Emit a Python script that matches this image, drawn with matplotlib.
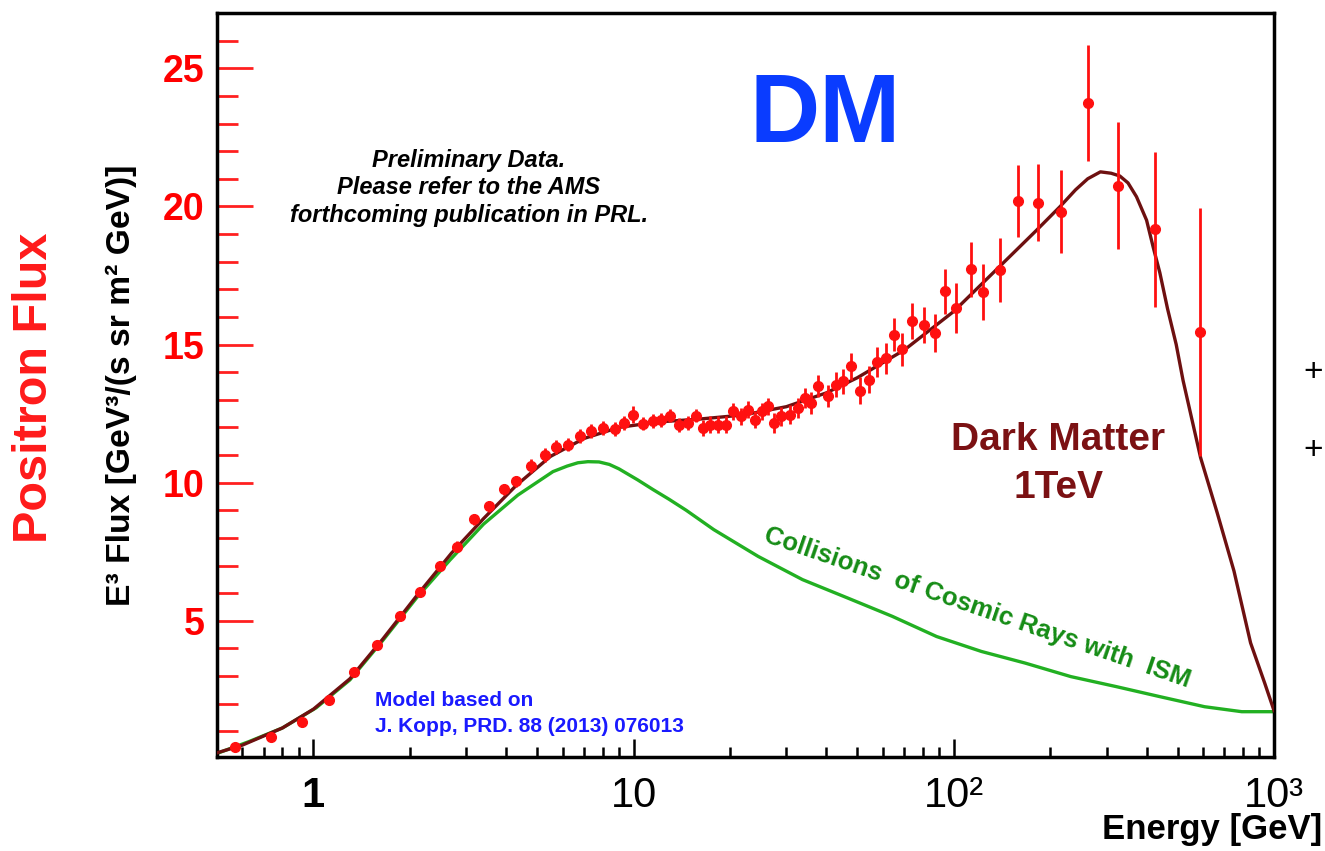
import numpy as np
import matplotlib
matplotlib.use("Agg")
import matplotlib.pyplot as plt
from matplotlib.ticker import MultipleLocator, LogLocator, NullFormatter

plt.rcParams['font.family'] = ['Liberation Sans', 'DejaVu Sans']

# AMS positron data points (E in GeV, E^3 flux, error)
energy = [0.571, 0.736, 0.922, 1.117, 1.336, 1.585, 1.86, 2.15, 2.48, 2.81,
          3.18, 3.54, 3.94, 4.3, 4.79, 5.27, 5.73, 6.24, 6.78, 7.38,
          8.02, 8.72, 9.3, 9.95, 10.7, 11.5, 12.2, 13.0, 13.9, 14.8,
          15.7, 16.5, 17.3, 18.4, 19.4, 20.4, 21.7, 22.7, 23.9, 25.1,
          26.3, 27.5, 28.9, 30.7, 32.6, 34.2, 35.8, 37.6, 40.4, 43.0,
          45.1, 47.9, 50.9, 54.2, 57.6, 61.2, 64.9, 69.0, 74.1, 80.6,
          87.1, 93.9, 101.8, 112.8, 123.7, 139.1, 158.8, 183.5, 216.3, 262.8,
          324.7, 426.0, 588.0]
flux = [0.42, 0.81, 1.33, 2.14, 3.13, 4.13, 5.16, 6.06, 7.0, 7.68,
        8.67, 9.15, 9.76, 10.05, 10.59, 11.0, 11.3, 11.38, 11.68, 11.86,
        11.98, 11.95, 12.16, 12.46, 12.14, 12.22, 12.28, 12.43, 12.1, 12.16,
        12.43, 11.98, 12.1, 12.1, 12.1, 12.58, 12.4, 12.64, 12.28, 12.58,
        12.76, 12.16, 12.4, 12.46, 12.7, 13.07, 12.89, 13.49, 13.13, 13.55,
        13.67, 14.21, 13.33, 13.73, 14.37, 14.5, 15.36, 14.82, 15.84, 15.72,
        15.42, 16.92, 16.33, 17.72, 16.9, 17.69, 20.2, 20.13, 19.8, 23.73,
        20.74, 19.17, 15.45]
flux_err = [0.05, 0.05, 0.06, 0.07, 0.08, 0.09, 0.1, 0.12, 0.15, 0.2,
            0.2, 0.2, 0.2, 0.2, 0.25, 0.25, 0.25, 0.25, 0.25, 0.25,
            0.25, 0.25, 0.25, 0.3, 0.25, 0.25, 0.25, 0.25, 0.25, 0.25,
            0.25, 0.3, 0.3, 0.3, 0.3, 0.3, 0.3, 0.3, 0.3, 0.3,
            0.3, 0.35, 0.35, 0.35, 0.35, 0.35, 0.4, 0.4, 0.4, 0.45,
            0.45, 0.5, 0.5, 0.5, 0.55, 0.55, 0.6, 0.6, 0.65, 0.65,
            0.7, 0.8, 0.9, 1.0, 1.0, 1.15, 1.3, 1.4, 1.5, 2.1,
            2.3, 2.8, 4.5]

# model: collisions of cosmic rays with ISM
bg_energy = [0.5, 0.63, 0.8, 1.02, 1.3, 1.65, 2.1, 2.67, 3.4, 4.35,
             5.6, 6.2, 6.7, 7.2, 7.8, 8.4, 9.0, 10.3, 11.5, 12.9,
             14.6, 17.8, 24.5, 33.7, 46.5, 64.3, 88.4, 122, 167, 232,
             321, 438, 607, 793, 1000]
bg_flux = [0.2, 0.63, 1.12, 1.85, 2.86, 4.3, 5.83, 7.2, 8.5, 9.55,
           10.4, 10.6, 10.72, 10.76, 10.75, 10.66, 10.5, 10.1, 9.75, 9.4,
           9.0, 8.3, 7.33, 6.49, 5.83, 5.16, 4.43, 3.89, 3.47, 2.98,
           2.62, 2.26, 1.89, 1.71, 1.71]

# model: ISM + 1 TeV dark matter
dm_energy = [0.5, 0.6, 0.8, 1.0, 1.3, 1.65, 2.1, 2.7, 3.4, 4.3,
             5.5, 7.0, 9.0, 12, 16, 22, 30, 40, 50, 70,
             100, 150, 180, 215, 240, 262, 287, 310, 330, 350,
             372, 400, 420, 440, 465, 495, 520, 590, 665, 750,
             845, 935, 1000]
dm_flux = [0.22, 0.5, 1.12, 1.8, 2.9, 4.35, 5.9, 7.45, 8.7, 9.9,
           10.95, 11.6, 12.0, 12.2, 12.3, 12.45, 12.75, 13.25, 13.8, 14.8,
           16.2, 18.2, 19.1, 20.0, 20.6, 21.0, 21.25, 21.2, 21.1, 20.85,
           20.35, 19.5, 18.5, 17.6, 16.3, 15.0, 13.7, 10.9, 8.9, 6.8,
           4.2, 2.75, 1.75]

W, H = 1325, 851
fig = plt.figure(figsize=(W / 100, H / 100), dpi=100)
ax = fig.add_axes([217 / W, 1 - 757 / H, (1274 - 217) / W, (757 - 13) / H])

ax.plot(bg_energy, bg_flux, color='#22b022', lw=2.4, zorder=2)
ax.plot(dm_energy, dm_flux, color='#6e1010', lw=2.4, zorder=3)
ax.errorbar(energy, flux, yerr=flux_err, fmt='o', color='#ff1010', ms=7,
            elinewidth=2, capsize=0, zorder=4)

ax.set_xscale('log')
ax.set_xlim(0.5, 1000)
ax.set_ylim(0.07, 27.0)

for sp in ax.spines.values():
    sp.set_linewidth(2.5)

ax.set_yticks([5, 10, 15, 20, 25])
ax.yaxis.set_minor_locator(MultipleLocator(1))
ax.tick_params(axis='y', which='major', direction='in', length=26, width=2,
               color='#ff2020', labelcolor='#ff0000', labelsize=27, pad=9)
ax.tick_params(axis='y', which='minor', direction='in', length=15, width=2,
               color='#ff2020')
for lbl in ax.get_yticklabels():
    lbl.set_fontweight('bold')

ax.set_xticks([1, 10, 100, 1000])
ax.set_xticklabels(['1', '10', '10²', '10³'])
ax.xaxis.set_minor_locator(LogLocator(base=10, subs=np.arange(2, 10)))
ax.xaxis.set_minor_formatter(NullFormatter())
ax.tick_params(axis='x', which='major', direction='in', length=13, width=1.8,
               color='black', labelsize=30, pad=14)
ax.tick_params(axis='x', which='minor', direction='in', length=7, width=1.8,
               color='black')
ax.get_xticklabels()[0].set_fontweight('bold')


def px(x, y):
    return x / W, 1 - y / H


fig.text(*px(1322, 830), 'Energy [GeV]', ha='right', va='center',
         fontsize=25, fontweight='bold')
fig.text(*px(35, 388), 'Positron Flux', rotation=90, ha='center',
         va='center', fontsize=35, fontweight='bold', color='#ff1a1a')
fig.text(*px(121, 385), 'E³ Flux [GeV³/(s sr m² GeV)]', rotation=90,
         ha='center', va='center', fontsize=24.2, fontweight='bold')

fig.text(*px(825, 117), 'DM', ha='center', va='center', fontsize=70,
         fontweight='bold', color='#0a3cff')
fig.text(*px(469, 188), 'Preliminary Data.\nPlease refer to the AMS\n'
         'forthcoming publication in PRL.', ha='center', va='center',
         fontsize=17, fontweight='bold', fontstyle='italic',
         linespacing=1.25)
fig.text(*px(375, 700), 'Model based on', ha='left', va='center',
         fontsize=15, fontweight='bold', color='#1a1aff')
fig.text(*px(375, 727), 'J. Kopp, PRD. 88 (2013) 076013', ha='left',
         va='center', fontsize=15, fontweight='bold', color='#1a1aff')
fig.text(*px(1058, 440), 'Dark Matter', ha='center', va='center',
         fontsize=28, fontweight='bold', color='#7b1113')
fig.text(*px(1058, 488), '1TeV', ha='center', va='center',
         fontsize=28, fontweight='bold', color='#7b1113')
fig.text(*px(977, 608), 'Collisions  of Cosmic Rays with  ISM',
         ha='center', va='center', rotation=-19, rotation_mode='anchor',
         fontsize=18.5, fontweight='bold', color='#158c15')

# glyphs of the neighbouring slide at the right edge
fig.text(*px(1313, 372), '+', ha='center', va='center', fontsize=24)
fig.text(*px(1313, 450), '+', ha='center', va='center', fontsize=24)

fig.savefig('out.png', dpi=100)
